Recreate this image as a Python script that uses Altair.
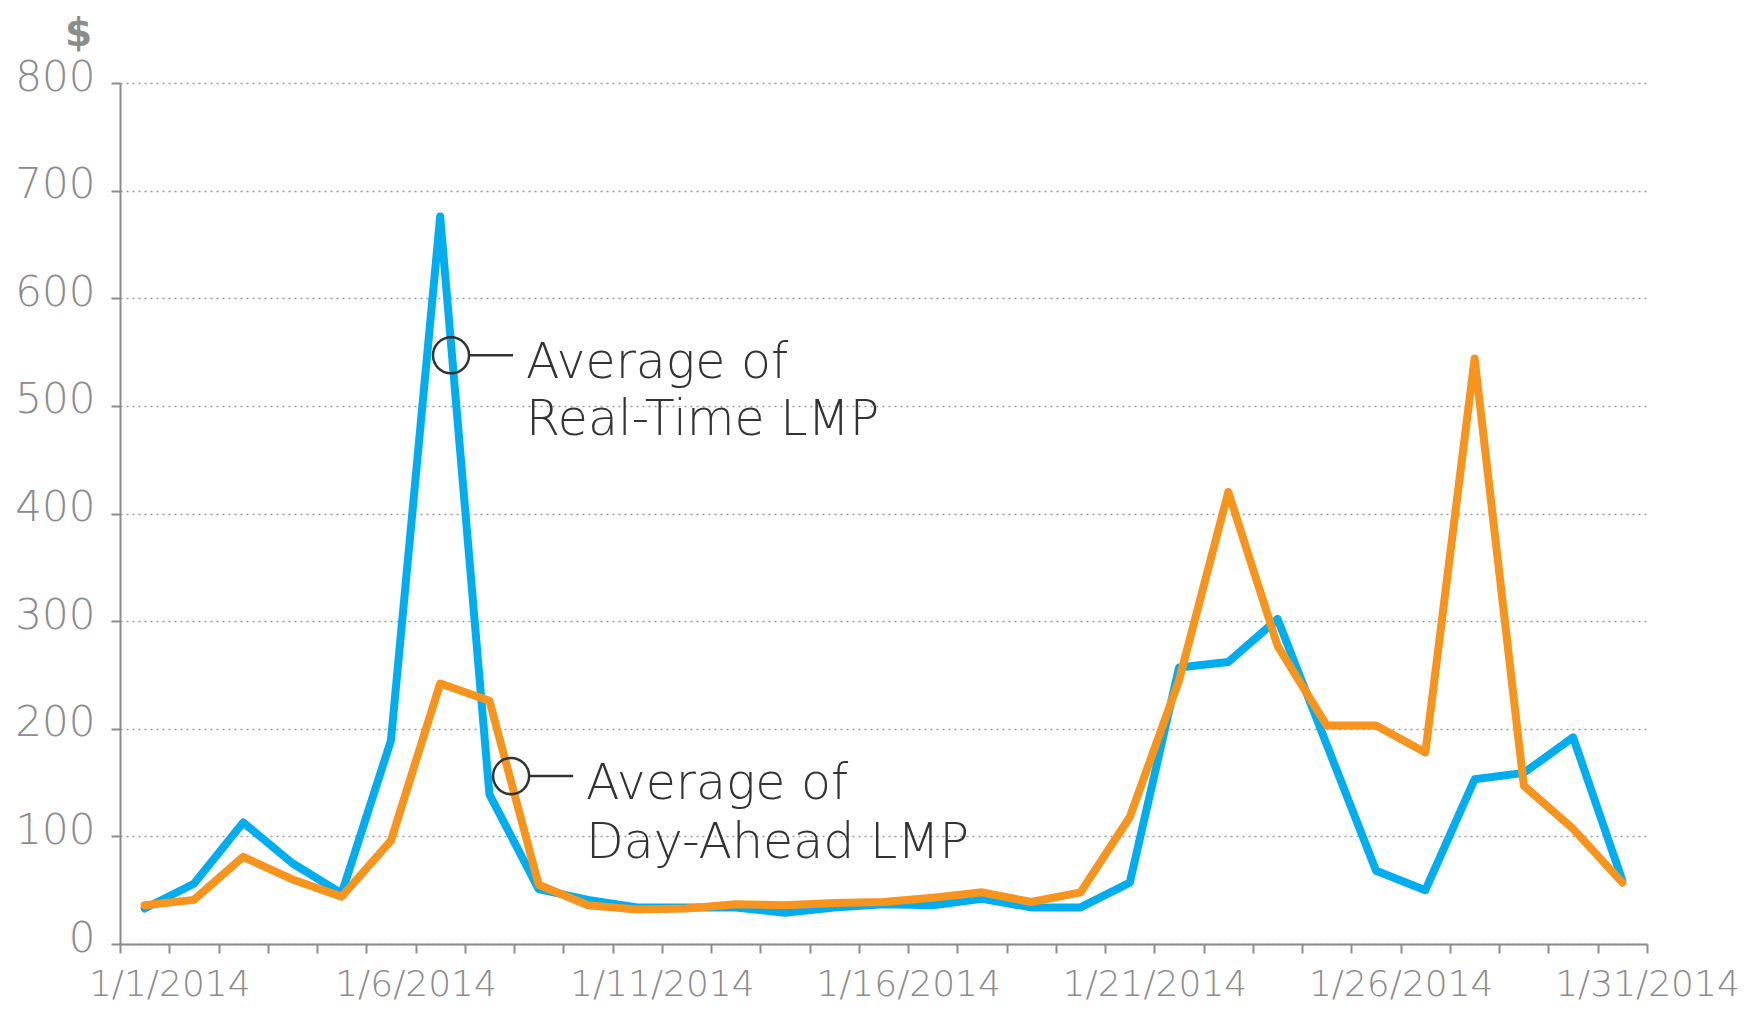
import altair as alt
import pandas as pd

# Day of January 2014
days = [1, 2, 3, 4, 5, 6, 7, 8, 9, 10, 11, 12, 13, 14, 15, 16,
        17, 18, 19, 20, 21, 22, 23, 24, 25, 26, 27, 28, 29, 30, 31]
real_time = [33, 56, 113, 75, 47, 189, 676, 139, 51, 41, 34, 34, 34, 29, 34, 37,
             36, 42, 34, 34, 57, 257, 262, 302, 185, 68, 50, 153, 159, 192, 59]
day_ahead = [36, 41, 81, 60, 44, 96, 242, 226, 55, 36, 32, 33, 37, 36, 38, 39,
             43, 48, 39, 48, 118, 245, 420, 277, 203, 203, 178, 544, 147, 107, 57]

y_ticks = [0, 100, 200, 300, 400, 500, 600, 700, 800]
x_ticks = [0.5, 1.5, 2.5, 3.5, 4.5, 5.5, 6.5, 7.5, 8.5, 9.5, 10.5, 11.5, 12.5,
           13.5, 14.5, 15.5, 16.5, 17.5, 18.5, 19.5, 20.5, 21.5, 22.5, 23.5,
           24.5, 25.5, 26.5, 27.5, 28.5, 29.5, 30.5, 31.5]

# annotation (in data units)
circ_x = [7.22, 8.44]
circ_y = [547, 156]
lead_x1 = [7.59, 8.81]
lead_x2 = [8.48, 9.70]
note_text = ["Average of", "Real-Time LMP", "Average of", "Day-Ahead LMP"]
note_x = [8.74, 8.74, 9.96, 9.96]
note_y = [526, 473, 135, 80]

FONT = "DejaVu Sans"
GRAY = "#8c8c8c"

rt_df = pd.DataFrame({"day": days, "value": real_time})
da_df = pd.DataFrame({"day": days, "value": day_ahead})
circ_df = pd.DataFrame({"day": circ_x, "value": circ_y})
lead_df = pd.DataFrame({"day": lead_x1, "day2": lead_x2, "value": circ_y})
note_df = pd.DataFrame({"day": note_x, "value": note_y, "text": note_text})

x_enc = alt.X(
    "day:Q",
    scale=alt.Scale(domain=[0.5, 31.5], nice=False, zero=False),
    axis=alt.Axis(
        values=x_ticks,
        labelExpr="(datum.value - 0.5) % 5 == 1 ? '1/' + (datum.value - 0.5) + '/2014' : ''",
        title=None, grid=False,
        domainColor=GRAY, domainWidth=2,
        tickColor=GRAY, tickWidth=2, tickSize=9,
        labelFont=FONT, labelFontSize=36, labelColor=GRAY, labelFontWeight=300,
        labelPadding=14, labelFlush=False, labelOverlap=False, labelBound=False,
        labelAlign="center", labelLimit=0,
    ),
)
y_enc = alt.Y(
    "value:Q",
    scale=alt.Scale(domain=[0, 800], nice=False),
    axis=alt.Axis(
        values=y_ticks, title="$",
        titleAngle=0, titleX=-42, titleY=-50, titleAlign="center", titleBaseline="middle",
        titleFont=FONT, titleFontSize=39, titleFontWeight="bold", titleColor=GRAY,
        grid=True, gridColor="#9a9a9a", gridDash=[2, 4], gridWidth=1.5,
        domainColor=GRAY, domainWidth=2,
        tickColor=GRAY, tickWidth=2, tickSize=9,
        labelFont=FONT, labelFontSize=42, labelColor=GRAY, labelFontWeight=300,
        labelPadding=16, labelOffset=-6, labelBaseline="middle", labelLimit=0,
    ),
)

rt_line = alt.Chart(rt_df).mark_line(
    color="#00AEEF", strokeWidth=8, strokeJoin="round", strokeCap="round"
).encode(x=x_enc, y=y_enc)

da_line = alt.Chart(da_df).mark_line(
    color="#F7941D", strokeWidth=8, strokeJoin="round", strokeCap="round"
).encode(x=x_enc, y=y_enc)

circles = alt.Chart(circ_df).mark_point(
    shape="circle", filled=False, size=1300, stroke="#333333", strokeWidth=2.5, opacity=1
).encode(x=x_enc, y=y_enc)

leads = alt.Chart(lead_df).mark_rule(color="#333333", strokeWidth=2.5).encode(
    x=x_enc, x2="day2:Q", y=y_enc
)

notes = alt.Chart(note_df).mark_text(
    align="left", baseline="alphabetic", font=FONT, fontSize=49,
    fontWeight=300, color="#333333"
).encode(x=x_enc, y=y_enc, text="text:N")

chart = alt.layer(rt_line, da_line, circles, leads, notes).properties(
    width=1527, height=861,
    autosize=alt.AutoSizeParams(type="none"),
    padding={"left": 112, "top": 75, "right": 99, "bottom": 61},
    background="white",
).configure_view(stroke=None)

chart.save("out.html", embed_options={"renderer": "svg", "actions": False})
